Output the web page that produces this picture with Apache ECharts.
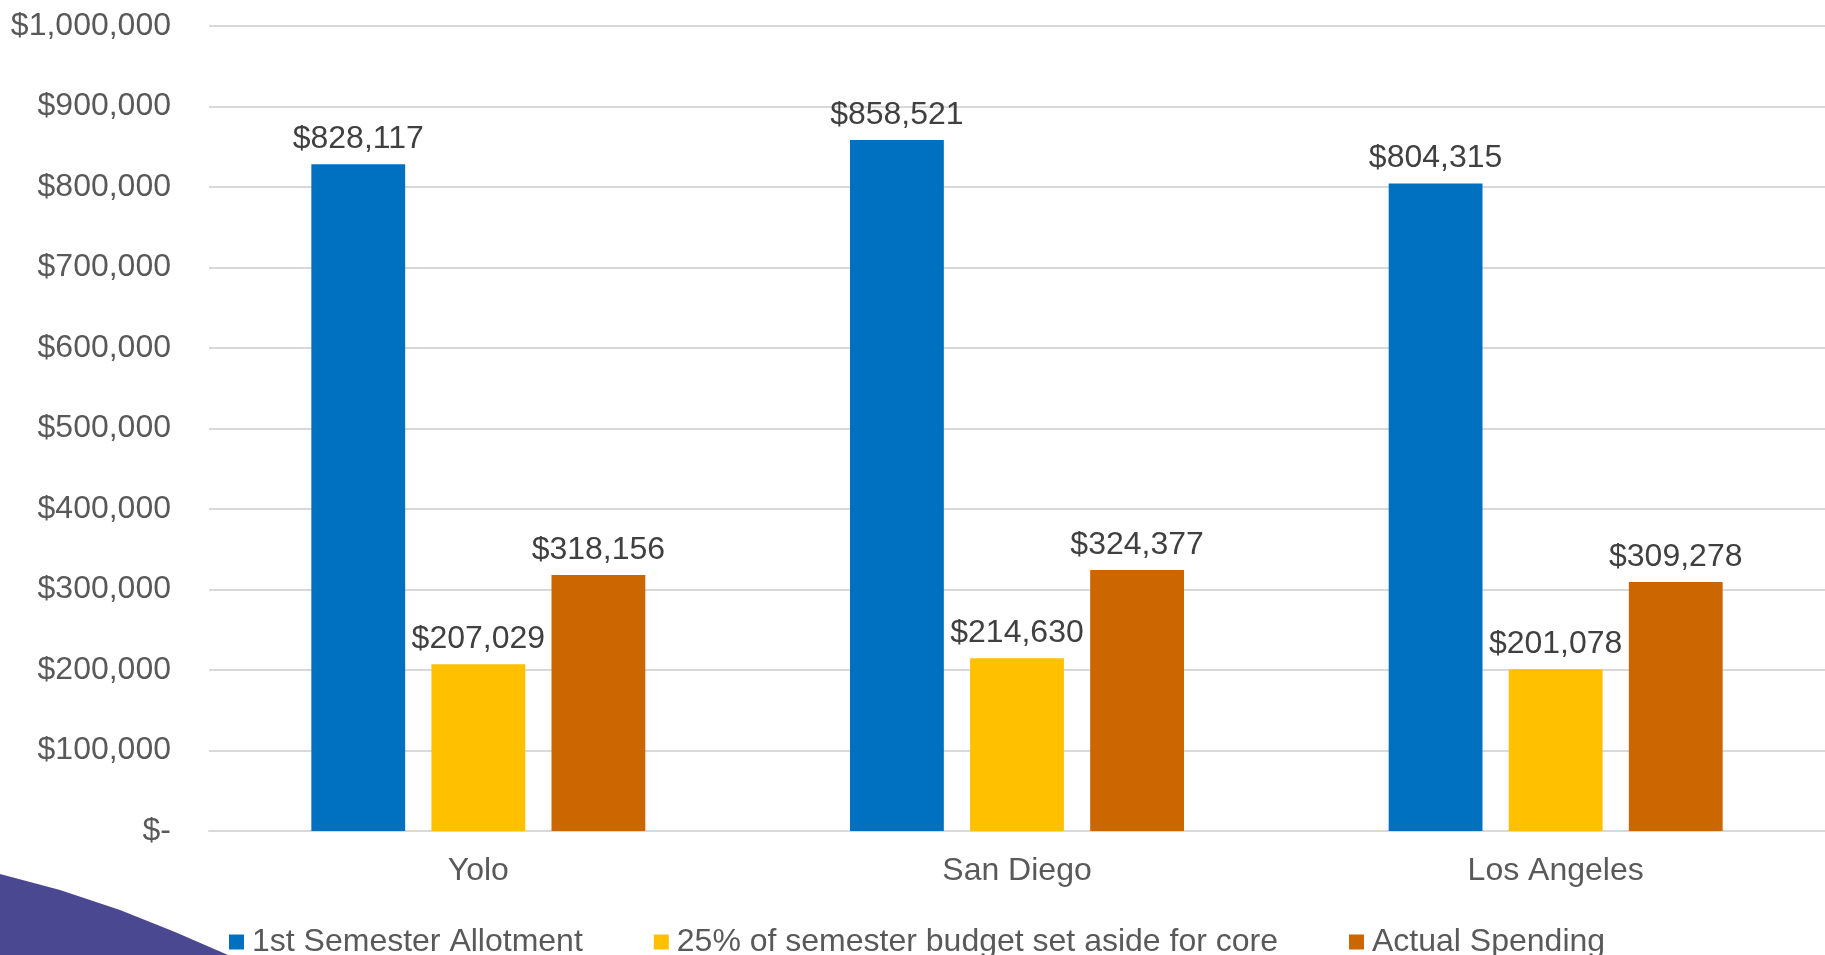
<!DOCTYPE html>
<html>
<head>
<meta charset="utf-8">
<style>
  html, body { margin: 0; padding: 0; background: #fff; }
  #chart { width: 1825px; height: 955px; }
</style>
<script src="https://cdn.jsdelivr.net/npm/echarts@6/dist/echarts.min.js"></script>
</head>
<body>
<div id="chart"></div>
<script>
const categories = ['Yolo', 'San Diego', 'Los Angeles']
const allotment = [828117, 858521, 804315]
const setAside = [207029, 214630, 201078]
const spending = [318156, 324377, 309278]
const seriesNames = ['1st Semester Allotment', '25% of semester budget set aside for core', 'Actual Spending']

const textColor = '#595959'
const money = (v) => (v === 0 ? '$-' : '$' + v.toLocaleString('en-US'))

const chart = echarts.init(document.getElementById('chart'))

const barLabel = {
  show: true,
  position: 'top',
  distance: 9,
  color: '#404040',
  fontSize: 32,
  fontFamily: 'Liberation Sans',
  formatter: (p) => money(p.value),
}

const option = {
  animation: false,
  textStyle: { fontFamily: 'Liberation Sans' },
  grid: {
    top: 26,
    bottom: 124,
    left: 209,
    right: 0,
  },
  legend: {
    data: seriesNames,
    bottom: -8,
    left: 224,
    itemWidth: 15,
    itemHeight: 15,
    itemGap: 71,
    icon: 'rect',
    textStyle: { color: textColor, fontSize: 32, padding: [0, 0, 0, 3] },
  },
  xAxis: {
    type: 'category',
    data: categories,
    axisLine: { show: true, lineStyle: { color: '#d9d9d9', width: 2 } },
    axisTick: { show: false },
    axisLabel: { color: textColor, fontSize: 32, margin: 24 },
  },
  yAxis: {
    type: 'value',
    min: 0,
    max: 1000000,
    interval: 100000,
    axisLine: { show: false },
    axisTick: { show: false },
    splitLine: { lineStyle: { color: '#d9d9d9', width: 2 } },
    axisLabel: { color: textColor, fontSize: 32, margin: 38, formatter: money },
  },
  series: [
    {
      name: seriesNames[0],
      type: 'bar',
      data: allotment,
      itemStyle: { color: '#0070C0' },
      barGap: '28%',
      barCategoryGap: '38%',
      label: barLabel,
    },
    {
      name: seriesNames[1],
      type: 'bar',
      data: setAside,
      itemStyle: { color: '#FFC000' },
      barGap: '28%',
      barCategoryGap: '38%',
      label: barLabel,
    },
    {
      name: seriesNames[2],
      type: 'bar',
      data: spending,
      itemStyle: { color: '#CC6600' },
      barGap: '28%',
      barCategoryGap: '38%',
      label: barLabel,
    },
  ],
  // purple swoosh in the bottom-left corner
  graphic: [
    {
      type: 'polygon',
      silent: true,
      shape: {
        points: [[0, 874], [60, 890], [120, 910], [175, 932], [228, 955], [0, 955]],
      },
      style: { fill: '#4A4890' },
    },
  ],
}

chart.setOption(option)
</script>
</body>
</html>
